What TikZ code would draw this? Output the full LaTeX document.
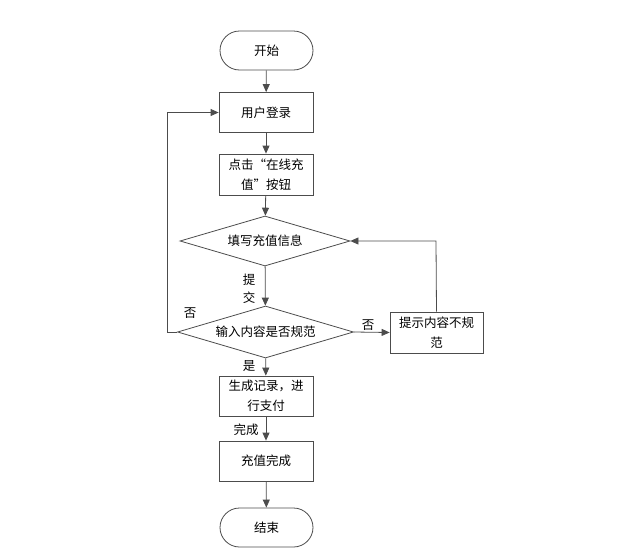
\documentclass[tikz,border=0pt]{standalone}
\usepackage{fontspec}
\setmainfont{Noto Sans CJK SC}
\usetikzlibrary{arrows.meta,shapes.geometric}
\tikzset{
  flowline/.style={draw=black!70, line width=0.8pt, -{Triangle[length=8pt,width=7pt]}},
  termbox/.style={draw=black!70, line width=0.8pt, rounded corners=19.5pt, minimum width=93pt, minimum height=39pt, inner sep=0pt},
  procbox/.style={draw=black!70, line width=0.8pt, minimum width=94pt, minimum height=40pt, inner sep=0pt, align=center},
  decbox/.style={draw=black!70, line width=0.8pt, diamond, aspect=3.4, minimum width=170pt, minimum height=50pt, inner sep=0pt},
  lbl/.style={font=\fontsize{12.5}{18}\selectfont, inner sep=0pt, align=center}
}
\begin{document}
\begin{tikzpicture}[x=1pt,y=-1pt,font=\fontsize{12.5}{20}\selectfont]
\useasboundingbox (0,0) rectangle (625,557);
\node[termbox] (start) at (266.5,50.5) {开始};
\node[procbox] (login) at (266,112.5) {用户登录};
\node[procbox, minimum height=41pt] (click) at (266,174.5) {点击“在线充\\值”按钮};
\node[decbox] (fill) at (265,241) {填写充值信息};
\node[decbox, minimum width=176pt, minimum height=52pt] (check) at (265.5,332) {输入内容是否规范};
\node[procbox, minimum width=93pt, minimum height=41pt] (tip) at (436.5,332.5) {提示内容不规\\范};
\node[procbox] (pay) at (266,396) {生成记录，进\\行支付};
\node[procbox] (done) at (266,461) {充值完成};
\node[termbox] (end) at (266.5,527.5) {结束};
\coordinate (loopL) at (167,332);
\coordinate (loopR) at (436,241);
\draw[flowline] (start) -- (login);
\draw[flowline] (login) -- (click);
\draw[flowline] (click) -- (fill);
\draw[flowline] (fill) -- (check);
\draw[flowline] (check.west) -- (loopL) |- (login.west);
\draw[flowline] (check.east) -- (tip.west);
\draw[flowline] (tip.north) -- (loopR) -- (fill.east);
\draw[flowline] (check) -- (pay);
\draw[flowline] (pay) -- (done);
\draw[flowline] (done) -- (end);
\node[lbl] (submit) at (249,289) {提\\交};
\node[lbl] (no1) at (190,313) {否};
\node[lbl] (no2) at (368,325) {否};
\node[lbl] (yes) at (249,366) {是};
\node[lbl] (fin) at (246,430) {完成};
\end{tikzpicture}
\end{document}
